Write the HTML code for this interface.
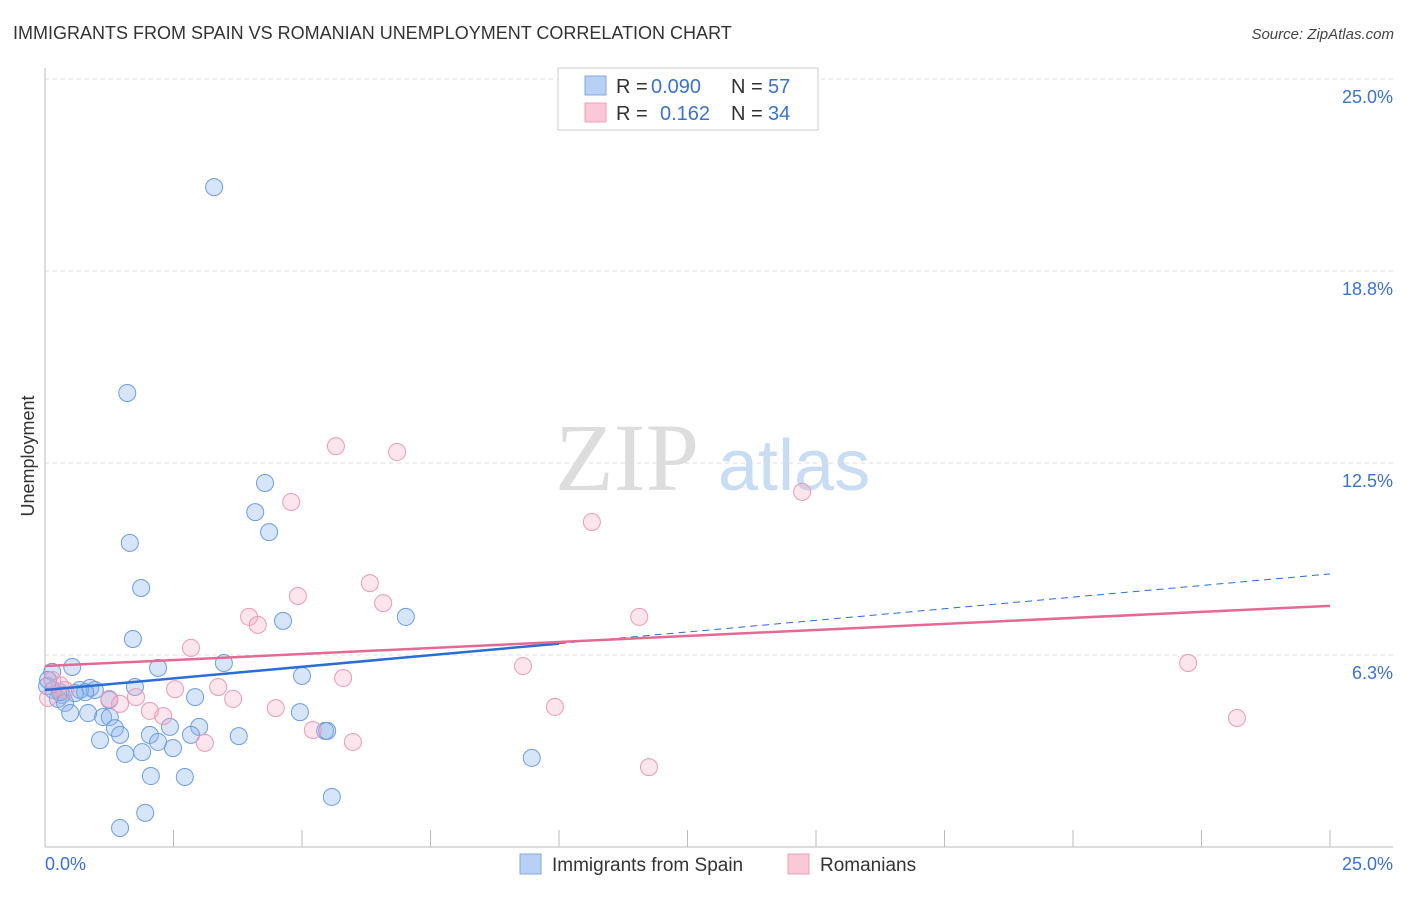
<!DOCTYPE html>
<html><head><meta charset="utf-8"><style>
body{margin:0;background:#fff;font-family:"Liberation Sans",sans-serif}
</style></head><body>
<svg id="chart" width="1406" height="892" xmlns="http://www.w3.org/2000/svg" font-family="Liberation Sans, sans-serif">
<text x="13" y="39" font-size="18" fill="#333">IMMIGRANTS FROM SPAIN VS ROMANIAN UNEMPLOYMENT CORRELATION CHART</text>
<text x="1394" y="39" font-size="15" fill="#444" text-anchor="end" font-style="italic">Source: ZipAtlas.com</text>
<g>
<text x="555" y="490" font-family="Liberation Serif, serif" font-size="96" fill="#ddd">ZIP</text>
<text x="718" y="490" font-size="72" fill="#c8dcf4">atlas</text>
</g>
<g id="grid"></g>
<g id="axes"></g>
<g id="marks"></g>
<text transform="translate(34,456) rotate(-90)" font-size="18" fill="#333" text-anchor="middle">Unemployment</text>
<g>
<rect x="558" y="68" width="260" height="62" fill="#fff" stroke="#ccc"/>
<rect x="585" y="76" width="21" height="19" fill="#b8d0f4" stroke="#7fa8e4"/>
<text x="616" y="93" font-size="20" fill="#333">R = </text><text x="651" y="93" font-size="20" fill="#3a72d0">0.090</text>
<text x="731" y="93" font-size="20" fill="#333">N = </text><text x="768" y="93" font-size="20" fill="#3a72d0">57</text>
<rect x="585" y="103" width="21" height="19" fill="#fac8d6" stroke="#eea0b8"/>
<text x="616" y="120" font-size="20" fill="#333">R = </text><text x="660" y="120" font-size="20" fill="#3a72d0">0.162</text>
<text x="731" y="120" font-size="20" fill="#333">N = </text><text x="768" y="120" font-size="20" fill="#3a72d0">34</text>
</g>
<g>
<rect x="520" y="854" width="21" height="20" fill="#b8d0f4" stroke="#7fa8e4"/>
<text x="552" y="871" font-size="19" fill="#333">Immigrants from Spain</text>
<rect x="788" y="854" width="21" height="20" fill="#fac8d6" stroke="#eea0b8"/>
<text x="820" y="871" font-size="19" fill="#333">Romanians</text>
</g>
</svg>
<script>
const yTicks=[6.25,12.5,18.75,25];
const yTickLabels=["6.3%","12.5%","18.8%","25.0%"];
const xTickVals=[0,2.5,5,7.5,10,12.5,15,17.5,20,22.5,25];
const xLabels=["0.0%","25.0%"];
const spainX=[3.29,1.60,4.28,4.09,4.36,1.65,1.87,1.71,4.63,7.02,2.20,3.48,0.14,0.53,5.00,0.04,0.16,0.88,0.97,0.68,0.78,1.75,0.33,0.25,0.39,2.92,1.25,0.49,0.84,1.13,1.26,1.36,1.46,2.43,3.00,2.84,2.04,2.20,1.07,1.89,1.56,2.49,3.77,4.96,5.45,5.49,9.47,2.06,2.72,5.58,1.95,1.46,0.06,0.29,0.58];
const spainY=[21.48,14.78,11.85,10.90,10.25,9.90,8.43,6.77,7.36,7.49,5.83,5.99,5.70,5.86,5.57,5.24,5.11,5.18,5.11,5.11,5.04,5.21,4.95,4.82,4.69,4.88,4.79,4.36,4.36,4.23,4.23,3.87,3.65,3.91,3.91,3.65,3.65,3.42,3.48,3.09,3.03,3.22,3.61,4.39,3.78,3.78,2.90,2.31,2.28,1.63,1.11,0.62,5.44,5.04,5.01];
const romX=[5.66,6.85,4.79,14.73,10.64,6.32,4.92,6.58,3.97,4.14,11.56,2.84,22.24,9.30,5.80,3.37,2.53,3.66,1.25,1.77,1.46,4.49,9.92,2.04,2.30,5.21,3.11,5.99,11.75,23.19,0.14,0.29,0.39,0.06];
const romY=[13.05,12.86,11.23,11.56,10.58,8.59,8.17,7.94,7.49,7.23,7.49,6.48,5.99,5.89,5.50,5.21,5.14,4.82,4.82,4.88,4.66,4.52,4.56,4.43,4.26,3.81,3.39,3.42,2.60,4.20,5.44,5.27,5.11,4.85];
const spainTrend=[5.11,8.89];
const romTrend=[5.89,7.85];
const spainSolidEnd=10;

const NS="http://www.w3.org/2000/svg";
const X=v=>45+v/25*1285, Y=v=>847-v/25*768;
function mk(tag,attrs,parent){const e=document.createElementNS(NS,tag);for(const k in attrs)e.setAttribute(k,attrs[k]);document.getElementById(parent).appendChild(e);return e;}
yTicks.forEach((t,i)=>{
  const g=mk('line',{x1:45,x2:1393,y1:Y(t),y2:Y(t),stroke:'#ddd','stroke-dasharray':'4,4'},'grid');
  
  
  const l=mk('text',{x:1393,y:Y(t)+24,'font-size':18,fill:'#3a72d0','text-anchor':'end'},'axes');
  l.textContent=yTickLabels[i];
  
  
});
const ax=mk('line',{x1:45,x2:45,y1:68,y2:847,stroke:'#bbb'},'axes');


const bx=mk('line',{x1:45,x2:1393,y1:847,y2:847,stroke:'#bbb'},'axes');


xTickVals.forEach(t=>{
  const tk=mk('line',{x1:X(t),x2:X(t),y1:830,y2:847,stroke:'#bbb'},'axes');
  
  
});
[[0,'start',45],[25,'end',1393]].forEach((d,i)=>{
  const l=mk('text',{x:d[2],y:870,'font-size':18,fill:'#3a72d0','text-anchor':d[1]},'axes');
  l.textContent=xLabels[i];
  
  
});
spainX.forEach((x,i)=>{
  const c=mk('circle',{cx:X(x),cy:Y(spainY[i]),r:8.5,fill:'rgba(140,180,236,0.35)',stroke:'#6d9de0','stroke-width':1},'marks');
  
  
});
romX.forEach((x,i)=>{
  const c=mk('circle',{cx:X(x),cy:Y(romY[i]),r:8.5,fill:'rgba(245,170,195,0.3)',stroke:'#eb9ab6','stroke-width':1},'marks');
  
  
});
const sAt=x=>spainTrend[0]+(spainTrend[1]-spainTrend[0])*x/25;
const t1=mk('line',{x1:X(0),y1:Y(spainTrend[0]),x2:X(spainSolidEnd),y2:Y(sAt(spainSolidEnd)),stroke:'#2a6dd6','stroke-width':2.5},'marks');


const t2=mk('line',{x1:X(spainSolidEnd),y1:Y(sAt(spainSolidEnd)),x2:X(25),y2:Y(spainTrend[1]),stroke:'#2a6dd6','stroke-width':1,'stroke-dasharray':'7,5'},'marks');


const t3=mk('line',{x1:X(0),y1:Y(romTrend[0]),x2:X(25),y2:Y(romTrend[1]),stroke:'#e46a94','stroke-width':2.5},'marks');


</script>
</body></html>
